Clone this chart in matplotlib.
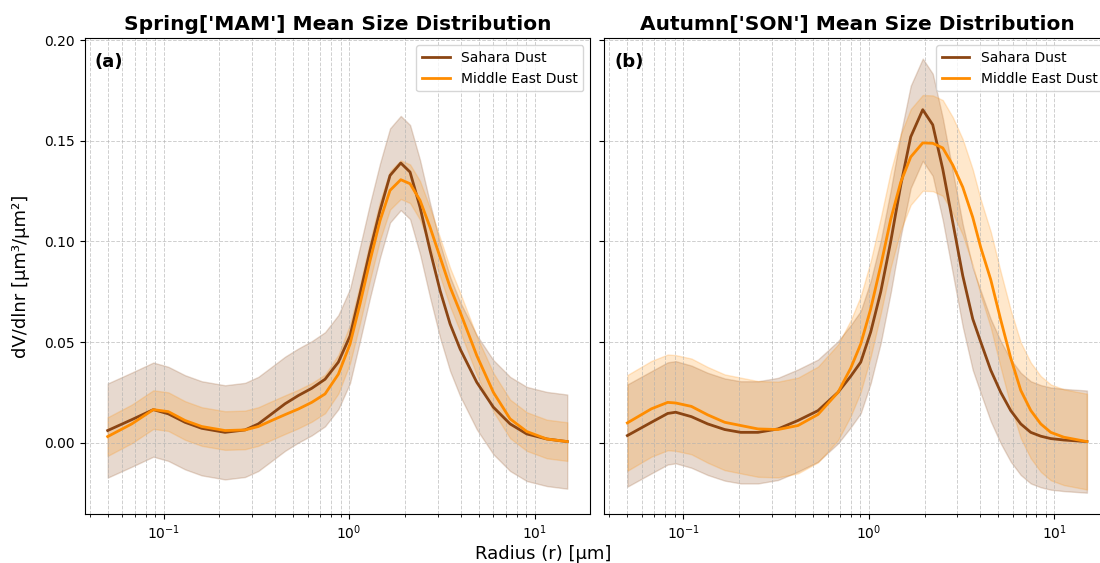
import numpy as np
import matplotlib
matplotlib.use('Agg')
from matplotlib import pyplot as plt

# spring (MAM) - values at these radii [um]
radius_mam = [0.050, 0.0674, 0.0881, 0.1061, 0.1306, 0.1607, 0.2146, 0.2750, 0.3244, 0.3831, 0.4518,
              0.5330, 0.6293, 0.7424, 0.8757, 1.012, 1.146, 1.298, 1.469, 1.663, 1.900, 2.132, 2.414,
              2.734, 3.095, 3.504, 3.966, 4.879, 5.998, 7.379, 9.078, 11.64, 15.0]
sahara_mam = [0.0060, 0.0114, 0.0164, 0.0143, 0.0101, 0.0071, 0.0051, 0.0063, 0.0093, 0.0143, 0.0193,
              0.0234, 0.0270, 0.0315, 0.0400, 0.0530, 0.0740, 0.0955, 0.1154, 0.1328, 0.1390, 0.1345, 0.1170,
              0.0955, 0.0756, 0.0590, 0.0466, 0.0300, 0.0176, 0.0093, 0.0043, 0.0018, 0.0005]
middle_east_mam = [0.0030, 0.0093, 0.0164, 0.0154, 0.0110, 0.0080, 0.0060, 0.0063, 0.0080, 0.0110, 0.0139,
                   0.0167, 0.0200, 0.0242, 0.0340, 0.0490, 0.0690, 0.0905, 0.1104, 0.1254, 0.1307, 0.1287, 0.1204,
                   0.1070, 0.0922, 0.0773, 0.0650, 0.0433, 0.0250, 0.0118, 0.0055, 0.0018, 0.0005]
sahara_mam_std = 0.0234
middle_east_mam_std = 0.0096

# autumn (SON)
radius_son = [0.050, 0.0674, 0.0825, 0.0911, 0.1107, 0.1355, 0.1674, 0.2042, 0.2530, 0.3244, 0.4158,
              0.5330, 0.6831, 0.7997, 0.9055, 1.025, 1.161, 1.314, 1.488, 1.684, 1.955, 2.213, 2.506,
              2.837, 3.212, 3.636, 4.016, 4.547, 5.147, 5.829, 6.598, 7.470, 8.456, 9.575, 11.25, 15.0]
sahara_son = [0.0035, 0.0101, 0.0145, 0.0151, 0.0129, 0.0093, 0.0065, 0.0051, 0.0051, 0.0068, 0.0110,
              0.0159, 0.0250, 0.0330, 0.0400, 0.0550, 0.0750, 0.1000, 0.1280, 0.1520, 0.1655, 0.1580, 0.1360,
              0.1096, 0.0830, 0.0615, 0.0500, 0.0360, 0.0250, 0.0159, 0.0093, 0.0051, 0.0032, 0.0020, 0.0013, 0.0005]
middle_east_son = [0.0098, 0.0168, 0.0200, 0.0197, 0.0180, 0.0138, 0.0101, 0.0085, 0.0068, 0.0065, 0.0085,
                   0.0140, 0.0250, 0.0370, 0.0490, 0.0665, 0.0880, 0.1110, 0.1295, 0.1420, 0.1490, 0.1488, 0.1465,
                   0.1380, 0.1270, 0.1120, 0.0970, 0.0810, 0.0610, 0.0420, 0.0260, 0.0160, 0.0093, 0.0051, 0.0027, 0.0005]
sahara_son_std = 0.0254
middle_east_son_std = 0.0238

seasons = [
    ("Spring['MAM'] Mean Size Distribution", '(a)', radius_mam,
     sahara_mam, sahara_mam_std, middle_east_mam, middle_east_mam_std),
    ("Autumn['SON'] Mean Size Distribution", '(b)', radius_son,
     sahara_son, sahara_son_std, middle_east_son, middle_east_son_std),
]

colors = {'Sahara Dust': '#8B4513', 'Middle East Dust': '#FF8C00'}

fig, axes = plt.subplots(1, 2, figsize=(11, 5.63), dpi=100, sharey=True)
fig.subplots_adjust(left=0.077, right=1.009, top=0.932, bottom=0.087, wspace=0.028)

for ax, (title, tag, r, sahara, s_std, mideast, m_std) in zip(axes, seasons):
    r = np.array(r)
    for name, mean, std in [('Sahara Dust', sahara, s_std), ('Middle East Dust', mideast, m_std)]:
        mean = np.array(mean)
        color = colors[name]
        ax.plot(r, mean, color=color, linewidth=2, label=name)
        ax.fill_between(r, mean - std, mean + std, color=color, alpha=0.2)
    ax.set_xscale('log')
    ax.set_title(title, fontsize=14.5, fontweight='bold')
    ax.text(0.02, 0.97, tag, transform=ax.transAxes, fontsize=13, fontweight='bold',
            va='top', ha='left')
    ax.grid(True, which='both', linestyle='--', linewidth=0.7, alpha=0.6)
    ax.legend(loc='upper right', fontsize=10)
    ax.tick_params(labelsize=10)

axes[0].set_ylim(-0.0355, 0.201)
axes[0].set_ylabel('dV/dlnr [µm³/µm²]', fontsize=13, labelpad=10)
fig.supxlabel('Radius (r) [µm]', fontsize=13, x=0.494, y=0.0)

plt.savefig('out.png')
